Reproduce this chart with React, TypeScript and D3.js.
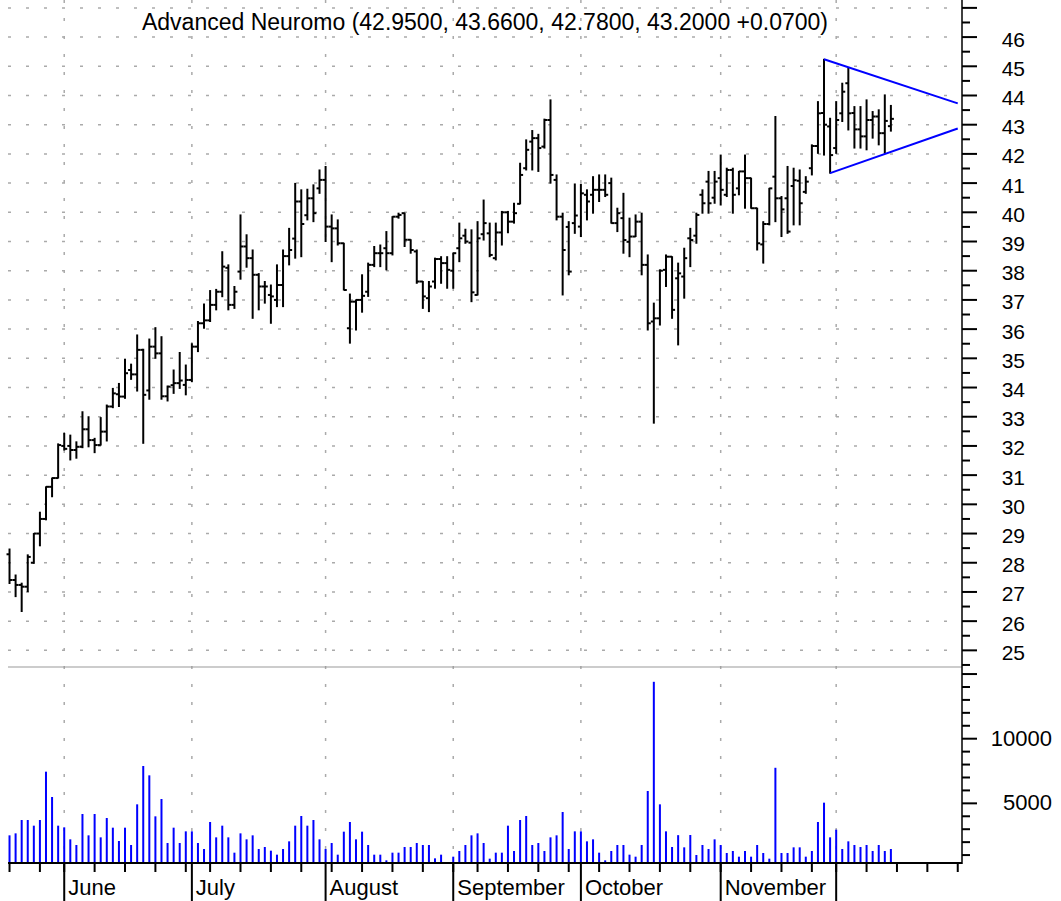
import React from "react";
import * as d3 from "d3";

// ---- data ----
const opens = [
  28.29, 27.41, 27.24, 27.18, 28.0, 29.0, 29.5, 30.6, 30.9, 32.0,
  32.0, 31.86, 31.97, 32.57, 32.2, 32.03, 32.49, 33.35, 33.77, 33.69,
  34.6, 34.45, 35.29, 33.9, 35.4, 35.17, 33.7, 34.08, 34.15, 34.09,
  34.26, 35.4, 36.2, 36.3, 36.83, 37.28, 38.1, 36.83, 37.97, 38.83,
  38.43, 37.86, 37.46, 37.17, 37.0, 37.51, 38.5, 39.1, 40.37, 39.9,
  40.48, 40.82, 41.11, 39.51, 39.45, 38.94, 36.03, 36.94, 37.0, 37.28,
  38.2, 38.6, 38.77, 38.6, 39.85, 39.97, 39.06, 38.66, 37.63, 37.06,
  37.63, 38.4, 38.26, 38.0, 38.77, 39.2, 38.96, 37.17, 39.25, 39.28,
  38.43, 39.31, 40.0, 39.68, 40.29, 41.51, 42.42, 42.54, 42.25, 43.16,
  41.11, 39.85, 39.5, 39.63, 39.51, 40.6, 40.6, 40.77, 40.77, 41.0,
  39.63, 39.8, 38.99, 39.17, 39.68, 38.2, 36.26, 36.37, 38.03, 38.48,
  37.74, 37.8, 39.11, 39.2, 40.6, 41.05, 40.5, 41.17, 40.6, 41.45,
  40.82, 41.4, 41.17, 40.14, 38.9, 39.6, 41.22, 40.48, 40.48, 40.9,
  41.08, 40.7, 41.51, 42.27, 43.4, 42.94, 42.2, 43.39, 44.42, 43.4,
  42.84, 42.6, 43.16, 43.28, 42.71, 42.95,
];
const highs = [
  28.47, 27.58, 27.3, 28.27, 29.0, 29.73, 30.6, 30.9, 32.07, 32.43,
  32.37, 32.14, 33.17, 33.0, 32.26, 32.97, 33.4, 33.97, 34.14, 34.97,
  34.8, 35.8, 35.31, 35.66, 36.05, 35.74, 34.05, 34.6, 35.2, 34.77,
  35.5, 36.26, 36.86, 37.32, 37.36, 38.65, 38.2, 37.46, 39.91, 39.23,
  38.71, 37.9, 37.63, 37.51, 38.2, 38.71, 39.45, 40.99, 40.77, 40.79,
  40.94, 41.45, 41.57, 39.91, 39.74, 38.94, 37.2, 37.0, 37.86, 38.26,
  38.83, 38.88, 39.34, 39.85, 39.97, 39.97, 39.06, 38.71, 37.63, 37.63,
  38.43, 38.48, 38.48, 38.6, 39.63, 39.42, 39.4, 39.68, 40.42, 39.63,
  39.63, 40.03, 40.03, 40.31, 41.68, 42.48, 42.8, 42.67, 43.19, 43.85,
  41.28, 39.97, 39.68, 40.97, 40.96, 40.77, 41.22, 41.28, 41.28, 41.17,
  40.14, 40.65, 39.8, 39.91, 39.97, 38.54, 36.89, 38.03, 38.54, 38.48,
  38.26, 38.77, 39.45, 39.97, 40.77, 41.4, 41.4, 41.96, 41.51, 41.51,
  41.4, 41.96, 41.17, 40.14, 39.68, 40.82, 43.28, 40.54, 41.57, 41.51,
  41.45, 41.22, 42.31, 43.79, 45.24, 43.22, 43.79, 44.42, 44.93, 43.62,
  43.62, 43.85, 43.45, 43.51, 44.02, 43.66,
];
const lows = [
  27.29, 26.84, 26.33, 27.01, 27.98, 28.58, 29.47, 30.26, 30.9, 31.86,
  31.52, 31.58, 31.94, 31.97, 31.77, 32.03, 32.17, 33.31, 33.35, 33.63,
  34.28, 33.88, 32.09, 33.6, 35.0, 33.6, 33.54, 33.8, 33.97, 33.75,
  34.2, 35.23, 36.03, 36.26, 36.66, 37.11, 36.66, 36.71, 37.71, 38.12,
  36.37, 36.66, 36.89, 36.2, 36.77, 36.77, 38.2, 38.43, 38.48, 39.74,
  39.68, 40.65, 39.0, 38.31, 38.88, 37.34, 35.52, 35.97, 36.58, 37.12,
  38.14, 38.14, 38.03, 38.54, 39.8, 38.83, 38.6, 37.57, 36.71, 36.6,
  37.4, 37.57, 37.4, 37.4, 38.31, 38.94, 36.94, 37.17, 39.05, 38.48,
  38.37, 38.88, 39.3, 39.63, 40.29, 41.45, 41.45, 41.4, 42.2, 41.0,
  39.74, 37.17, 37.86, 39.28, 39.17, 39.74, 39.97, 40.37, 40.54, 39.63,
  39.34, 38.6, 38.48, 39.17, 37.86, 35.97, 32.78, 36.14, 37.46, 36.37,
  35.46, 37.06, 38.14, 38.94, 39.97, 39.97, 40.31, 40.25, 40.54, 39.97,
  40.6, 40.14, 40.14, 38.71, 38.26, 39.57, 39.68, 39.17, 39.28, 39.57,
  39.57, 40.65, 41.28, 42.02, 41.96, 41.34, 42.02, 43.11, 42.82, 42.2,
  42.2, 42.14, 42.54, 42.31, 42.02, 42.78,
];
const closes = [
  27.41, 27.24, 27.18, 28.2, 29.0, 29.5, 30.6, 30.9, 32.03, 31.9,
  31.86, 31.97, 32.57, 32.2, 32.03, 32.49, 33.35, 33.8, 33.69, 34.49,
  34.45, 35.29, 33.75, 35.4, 35.17, 33.7, 34.03, 34.15, 34.24, 34.26,
  35.4, 36.2, 36.3, 36.83, 37.28, 38.14, 36.83, 37.28, 38.83, 38.43,
  37.86, 37.46, 37.46, 37.12, 37.51, 38.5, 38.71, 40.37, 39.6, 40.48,
  39.97, 41.11, 39.51, 39.45, 38.94, 37.34, 36.94, 37.0, 37.14, 38.2,
  38.6, 38.6, 38.6, 39.85, 39.91, 39.06, 38.71, 37.63, 37.12, 37.46,
  38.4, 38.26, 38.03, 38.6, 39.11, 39.0, 37.26, 39.11, 39.63, 38.54,
  39.31, 40.0, 39.68, 39.97, 41.28, 42.14, 42.54, 42.2, 43.16, 41.28,
  39.85, 38.71, 37.97, 39.89, 40.65, 40.37, 40.77, 40.77, 40.6, 39.63,
  39.97, 39.05, 39.17, 39.68, 38.2, 36.2, 36.37, 38.0, 38.48, 36.66,
  37.91, 38.43, 39.05, 39.91, 40.31, 40.31, 41.05, 40.77, 41.45, 40.6,
  41.4, 41.17, 40.14, 38.94, 39.6, 40.82, 40.48, 40.1, 39.34, 41.1,
  40.31, 41.05, 42.27, 43.39, 43.0, 41.96, 43.16, 44.13, 43.39, 42.84,
  42.6, 43.16, 43.28, 42.71, 43.13, 43.2,
];
const volumes = [
  2526, 2680, 3712, 3712, 3274, 3712, 7450, 5491, 3274, 3145,
  2217, 1779, 4176, 2526, 4176, 2371, 3867, 3119, 2088, 3119,
  1779, 4924, 7889, 7166, 3996, 5336, 1933, 3119, 1933, 2835,
  2835, 1933, 1469, 3558, 2371, 3274, 2371, 1186, 2680, 2217,
  2526, 1469, 1624, 1340, 1031, 1469, 2062, 3274, 4022, 3274,
  3712, 2217, 1469, 1933, 1031, 2810, 3558, 2217, 2810, 1779,
  1031, 1031, 593, 1186, 1186, 1624, 1624, 1933, 1779, 1779,
  747, 1031, 438, 876, 1315, 1779, 2526, 2680, 1933, 722,
  1186, 1186, 3274, 1315, 3712, 4022, 1779, 1933, 1315, 2371,
  2526, 4331, 1469, 2835, 2835, 2062, 2217, 1186, 593, 1315,
  1779, 1779, 1031, 876, 1779, 5955, 14400, 4924, 2835, 1624,
  2540, 1598, 2552, 1005, 1779, 1469, 2217, 1779, 1160, 1315,
  876, 1315, 876, 1779, 1160, 722, 7750, 1160, 1160, 1598,
  1598, 876, 1315, 3558, 5053, 2371, 2964, 1469, 2062, 1779,
  1624, 1779, 1315, 1779, 1315, 1469,
];
const monthLabels = ["June", "July", "August", "September", "October", "November", ""];
const monthIdx = [9, 30, 52, 73, 94, 117, 136];
const weekIdx = [0, 5, 9, 14, 19, 24, 29, 33, 38, 43, 48, 53, 58, 63, 68, 73, 77, 82, 87, 92, 97, 102, 107, 112, 117, 122, 127, 132, 136, 141, 146, 151, 156];
const priceLabels = [25, 26, 27, 28, 29, 30, 31, 32, 33, 34, 35, 36, 37, 38, 39, 40, 41, 42, 43, 44, 45, 46];
const volumeLabels = [5000, 10000];
const upperTrend = [[134, 45.24], [156, 43.73]];
const lowerTrend = [[135, 41.34], [156, 42.87]];
const seriesName = "Advanced Neuromo";

const FONT = "'Liberation Sans', Arial, Helvetica, sans-serif";

export default function App() {
  const W = 1061, H = 901;
  const left = 8, right = 962;
  const priceTop = 0, priceBottom = 667;
  const volTop = 667, volBottom = 863;

  const x = d3.scaleLinear().domain([-0.25, 156.7]).range([left, right]);
  const yP = d3.scaleLinear().domain([24.43, 47.27]).range([priceBottom, priceTop]);
  const yV = d3.scaleLinear().domain([387, 15545]).range([volBottom, volTop]);

  const n = closes.length;
  const idx = d3.range(n);
  const priceTicks = d3.range(24.5, 47.01, 0.5);
  const volTicks = d3.range(1000, 15001, 1000);
  const gridPrices = d3.range(25, 48, 1);

  const last = n - 1;
  const chg = closes[last] - closes[last - 1];
  const title = `${seriesName} (${opens[last].toFixed(4)}, ${highs[last].toFixed(4)}, ${lows[last].toFixed(4)}, ${closes[last].toFixed(4)} ${chg >= 0 ? "+" : ""}${chg.toFixed(4)})`;

  const line = d3.line<number[]>().x((d) => x(d[0])).y((d) => yP(d[1]));

  const gridColor = "#aaaaaa";
  const dash = "3 15";

  return (
    <svg width={W} height={H} style={{ position: "absolute", left: 0, top: 0, background: "#fff" }} fontFamily={FONT}>
      <rect x={0} y={0} width={W} height={H} fill="#fff" />
      {/* horizontal price grid */}
      {gridPrices.map((p) => (
        <line key={"hg" + p} x1={left} x2={right} y1={yP(p)} y2={yP(p)} stroke={gridColor} strokeWidth={1.5} strokeDasharray={dash} />
      ))}
      {/* vertical month grid */}
      {monthIdx.map((m) => (
        <line key={"vg" + m} x1={x(m)} x2={x(m)} y1={0} y2={volBottom} stroke={gridColor} strokeWidth={1.5} strokeDasharray={dash} />
      ))}
      {/* pane separator */}
      <line x1={left} x2={right} y1={priceBottom} y2={priceBottom} stroke="#999" strokeWidth={1} />

      {/* title */}
      <text x={(left + right) / 2} y={30} textAnchor="middle" fontSize={23} fill="#000">{title}</text>

      {/* OHLC bars */}
      <g stroke="#000" strokeWidth={2}>
        {idx.map((i) => (
          <g key={"b" + i}>
            <line x1={x(i)} x2={x(i)} y1={yP(highs[i]) - 0.5} y2={yP(lows[i]) + 0.5} />
            <line x1={x(i) - 3} x2={x(i)} y1={yP(opens[i])} y2={yP(opens[i])} />
            <line x1={x(i)} x2={x(i) + 3} y1={yP(closes[i])} y2={yP(closes[i])} />
          </g>
        ))}
      </g>

      {/* triangle trend lines */}
      <path d={line(upperTrend) || ""} stroke="#0000ff" strokeWidth={2} fill="none" />
      <path d={line(lowerTrend) || ""} stroke="#0000ff" strokeWidth={2} fill="none" />

      {/* volume bars */}
      <g fill="#0000ff">
        {idx.map((i) => (
          <rect key={"v" + i} x={x(i) - 1} width={2} y={yV(volumes[i])} height={volBottom - yV(volumes[i])} />
        ))}
      </g>

      {/* right axis */}
      <line x1={right} x2={right} y1={0} y2={volBottom + 1} stroke="#000" strokeWidth={1.5} />
      {priceTicks.map((p) => {
        const major = Math.abs(p - Math.round(p)) < 1e-6;
        return <line key={"pt" + p} x1={right} x2={right + (major ? 15 : 8)} y1={yP(p)} y2={yP(p)} stroke="#000" strokeWidth={2} />;
      })}
      {priceLabels.map((p) => (
        <text key={"pl" + p} x={1025} y={yP(p) + 4} textAnchor="end" dominantBaseline="middle" fontSize={21} fill="#000">{p}</text>
      ))}
      {volTicks.map((v) => {
        const major = v % 5000 === 0;
        return <line key={"vt" + v} x1={right} x2={right + (major ? 15 : 8)} y1={yV(v)} y2={yV(v)} stroke="#000" strokeWidth={2} />;
      })}
      {volumeLabels.map((v) => (
        <text key={"vl" + v} x={1052} y={yV(v) + 1} textAnchor="end" dominantBaseline="middle" fontSize={22} fill="#000">{v}</text>
      ))}

      {/* bottom axis */}
      <line x1={left} x2={right} y1={volBottom} y2={volBottom} stroke="#000" strokeWidth={2} />
      {weekIdx.map((w) => (
        <line key={"wt" + w} x1={x(w)} x2={x(w)} y1={volBottom} y2={volBottom + 9} stroke="#000" strokeWidth={2} />
      ))}
      {monthIdx.map((m, k) => (
        <g key={"ml" + m}>
          <line x1={x(m)} x2={x(m)} y1={volBottom} y2={H} stroke="#000" strokeWidth={2} />
          <text x={x(m) + 4} y={895} fontSize={22} fill="#000">{monthLabels[k]}</text>
        </g>
      ))}
    </svg>
  );
}
